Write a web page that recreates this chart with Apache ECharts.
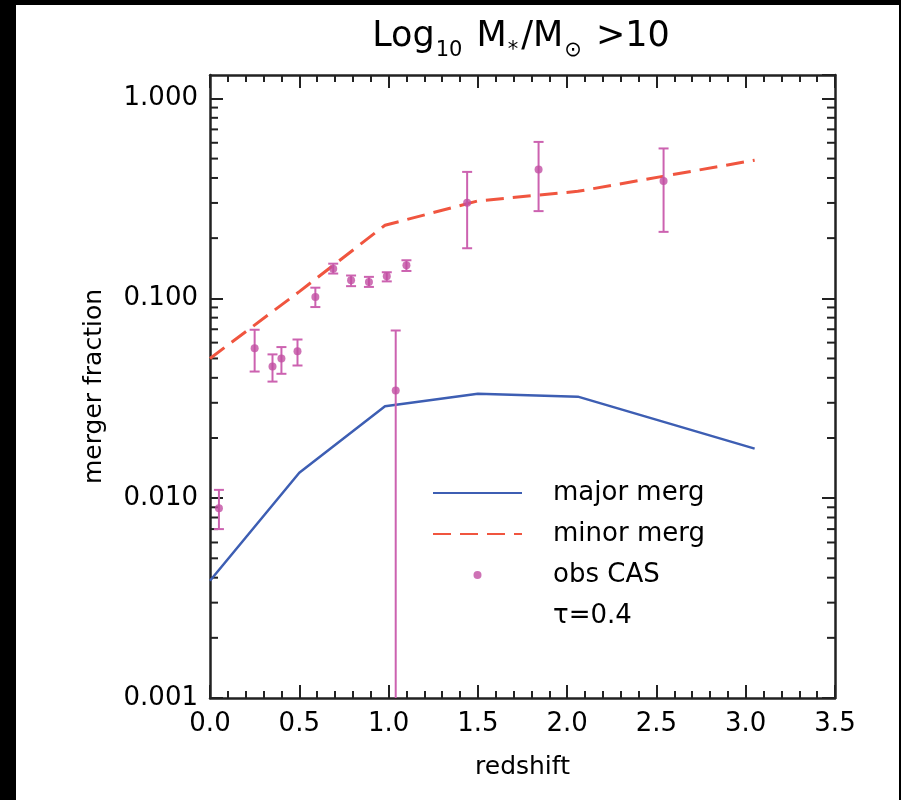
<!DOCTYPE html>
<html>
<head>
<meta charset="utf-8">
<script src="https://cdn.jsdelivr.net/npm/echarts@6/dist/echarts.min.js"></script>
<style>html,body{margin:0;padding:0;background:#fff;}#c{width:901px;height:800px;}</style>
</head>
<body>
<div id="c"></div>
<script>
// ---- data ----
var majorZ = [0.0, 0.5, 0.98, 1.5, 2.06, 3.05];
var majorF = [0.00386, 0.0134, 0.0288, 0.0333, 0.0322, 0.0177];
var minorZ = [0.0, 0.5, 0.98, 1.5, 2.06, 3.05];
var minorF = [0.050, 0.108, 0.232, 0.307, 0.343, 0.491];
var obsZ   = [0.05, 0.25, 0.35, 0.40, 0.49, 0.59, 0.69, 0.79, 0.89, 0.99, 1.04, 1.10, 1.44, 1.84, 2.54];
var obsF   = [0.0089, 0.0563, 0.0456, 0.0500, 0.0544, 0.1014, 0.1407, 0.123, 0.1205, 0.1288, 0.0346, 0.1462, 0.301, 0.441, 0.386];
var obsLo  = [0.0070, 0.0430, 0.0383, 0.0419, 0.0461, 0.0904, 0.133, 0.115, 0.114, 0.1215, 0.0005, 0.137, 0.178, 0.273, 0.215];
var obsHi  = [0.0110, 0.0696, 0.0524, 0.0570, 0.0622, 0.113, 0.149, 0.130, 0.128, 0.135, 0.069, 0.155, 0.429, 0.606, 0.562];
var xTicks = [0.0, 0.5, 1.0, 1.5, 2.0, 2.5, 3.0, 3.5];
var yTickLabels = [0.001, 0.01, 0.1, 1.0];
var yMinorTicks = [0.002,0.003,0.004,0.005,0.006,0.007,0.008,0.009,
                   0.02,0.03,0.04,0.05,0.06,0.07,0.08,0.09,
                   0.2,0.3,0.4,0.5,0.6,0.7,0.8,0.9];

var FONT = 'DejaVu Sans';
var AX = '#222';

function zip(a, b) { return a.map(function (v, i) { return [v, b[i]]; }); }

var chart = echarts.init(document.getElementById('c'), null, {renderer: 'canvas'});

var xBase = {
  type: 'value', min: 0, max: 3.5, interval: 0.5,
  axisLine: {show: true, onZero: false, lineStyle: {color: AX, width: 2.5}},
  axisTick: {show: true, inside: true, length: 13, lineStyle: {color: AX, width: 2}},
  minorTick: {show: true, splitNumber: 5, length: 7, lineStyle: {color: AX, width: 2}},
  splitLine: {show: false}
};
var yBase = {
  type: 'log', logBase: 10, min: 0.001, max: 1.31,
  axisLine: {show: true, onZero: false, lineStyle: {color: AX, width: 2.5}},
  axisTick: {show: true, inside: true, length: 13, lineStyle: {color: AX, width: 2}},
  splitLine: {show: false}
};

var option = {
  backgroundColor: '#fff',
  animation: false,
  graphic: [
    {type: 'rect', left: 0, top: 0, shape: {width: 16, height: 800}, style: {fill: '#000'}},
    {type: 'rect', left: 0, top: 0, shape: {width: 901, height: 5}, style: {fill: '#000'}},
    {type: 'rect', left: 899, top: 0, shape: {width: 2, height: 800}, style: {fill: '#000'}},
    {type: 'text', x: 521, y: 19, style: {
      text: '{n|Log}{s|10}{n| M}{s|*}{n|/M}{s|⊙}{n| >10}',
      align: 'center', verticalAlign: 'top',
      rich: {
        n: {fontFamily: FONT, fontSize: 35, fill: '#000', verticalAlign: 'bottom', lineHeight: 42, padding: [0, 0, 7, 0]},
        s: {fontFamily: FONT, fontSize: 21, fill: '#000', verticalAlign: 'bottom', lineHeight: 42, padding: [0, 3, 0, 1]}
      }
    }}
  ],
  grid: {left: 210, right: 66, top: 75, bottom: 102, containLabel: false},
  xAxis: [
    echarts.util.merge({
      position: 'bottom',
      name: 'redshift', nameLocation: 'middle', nameGap: 57,
      nameTextStyle: {fontFamily: FONT, fontSize: 25, color: '#000'},
      axisLabel: {show: true, margin: 13, fontFamily: FONT, fontSize: 26, color: '#000',
        formatter: function (v) { return v.toFixed(1); }}
    }, xBase, true),
    echarts.util.merge({position: 'top', axisLabel: {show: false}}, xBase, true)
  ],
  yAxis: [
    echarts.util.merge({
      position: 'left',
      name: 'merger fraction', nameLocation: 'middle', nameGap: 103,
      nameTextStyle: {fontFamily: FONT, fontSize: 25, color: '#000'},
      axisLabel: {show: true, margin: 12, fontFamily: FONT, fontSize: 26, color: '#000',
        showMaxLabel: false, showMinLabel: true,
        formatter: function (v) {
          for (var i = 0; i < yTickLabels.length; i++) {
            if (Math.abs(Math.log10(v) - Math.log10(yTickLabels[i])) < 1e-6) return yTickLabels[i].toFixed(3);
          }
          return '';
        }}
    }, yBase, true),
    echarts.util.merge({position: 'right', axisLabel: {show: false}}, yBase, true)
  ],
  legend: {
    orient: 'vertical', left: 432, top: 478, padding: 0,
    itemWidth: 89, itemHeight: 8, itemGap: 11,
    selectedMode: false,
    data: [
      {name: 'major merg', itemStyle: {opacity: 0}},
      {name: 'minor merg', itemStyle: {opacity: 0}},
      {name: 'obs CAS', icon: 'circle'},
      {name: 'τ=0.4', icon: 'none'}
    ],
    formatter: function (n) { return '{t|' + n + '}'; },
    textStyle: {
      fontFamily: FONT, fontSize: 26, color: '#000', lineHeight: 30,
      rich: {t: {fontFamily: FONT, fontSize: 26, color: '#000', lineHeight: 30, padding: [0, 0, 0, 26]}}
    }
  },
  series: [
    {
      name: 'major merg', type: 'line', xAxisIndex: 0, yAxisIndex: 0,
      data: zip(majorZ, majorF), symbol: 'none', showSymbol: false,
      color: '#3d5eb3', lineStyle: {color: '#3d5eb3', width: 2.5}, z: 3
    },
    {
      name: 'minor merg', type: 'line', xAxisIndex: 0, yAxisIndex: 0,
      data: zip(minorZ, minorF), symbol: 'none', showSymbol: false,
      color: '#f0553f', lineStyle: {color: '#f0553f', width: 3, type: [18, 9]}, z: 3
    },
    {
      name: 'errbars', type: 'custom', xAxisIndex: 0, yAxisIndex: 0,
      data: obsZ.map(function (z, i) { return [z, obsLo[i], obsHi[i]]; }),
      encode: {x: 0, y: [1, 2]},
      silent: true, z: 4,
      renderItem: function (params, api) {
        var x = api.value(0);
        var pLo = api.coord([x, api.value(1)]);
        var pHi = api.coord([x, api.value(2)]);
        var cs = params.coordSys;
        var bottom = cs.y + cs.height;
        var yLo = Math.min(pLo[1], bottom);
        var st = {stroke: '#cc62b0', lineWidth: 2};
        var children = [
          {type: 'line', shape: {x1: pHi[0], y1: pHi[1], x2: pHi[0], y2: yLo}, style: st},
          {type: 'line', shape: {x1: pHi[0] - 5, y1: pHi[1], x2: pHi[0] + 5, y2: pHi[1]}, style: st}
        ];
        if (pLo[1] <= bottom) {
          children.push({type: 'line', shape: {x1: pLo[0] - 5, y1: pLo[1], x2: pLo[0] + 5, y2: pLo[1]}, style: st});
        }
        return {type: 'group', children: children};
      }
    },
    {
      name: 'obs CAS', type: 'scatter', xAxisIndex: 0, yAxisIndex: 0,
      data: zip(obsZ, obsF), symbol: 'circle', symbolSize: 8,
      itemStyle: {color: '#c24fa3'}, z: 5
    },
    {
      name: 'τ=0.4', type: 'scatter', xAxisIndex: 0, yAxisIndex: 0,
      data: [], itemStyle: {color: 'transparent'}
    },
    {
      name: 'yminor', type: 'custom', xAxisIndex: 0, yAxisIndex: 0,
      data: yMinorTicks.map(function (v) { return [0, v]; }),
      encode: {x: 0, y: 1}, silent: true, z: 1,
      renderItem: function (params, api) {
        var y = api.coord([0, api.value(1)])[1];
        var cs = params.coordSys;
        var st = {stroke: AX, lineWidth: 2};
        return {type: 'group', children: [
          {type: 'line', shape: {x1: cs.x, y1: y, x2: cs.x + 8, y2: y}, style: st},
          {type: 'line', shape: {x1: cs.x + cs.width - 8, y1: y, x2: cs.x + cs.width, y2: y}, style: st}
        ]};
      }
    }
  ]
};
chart.setOption(option);
</script>
</body>
</html>
